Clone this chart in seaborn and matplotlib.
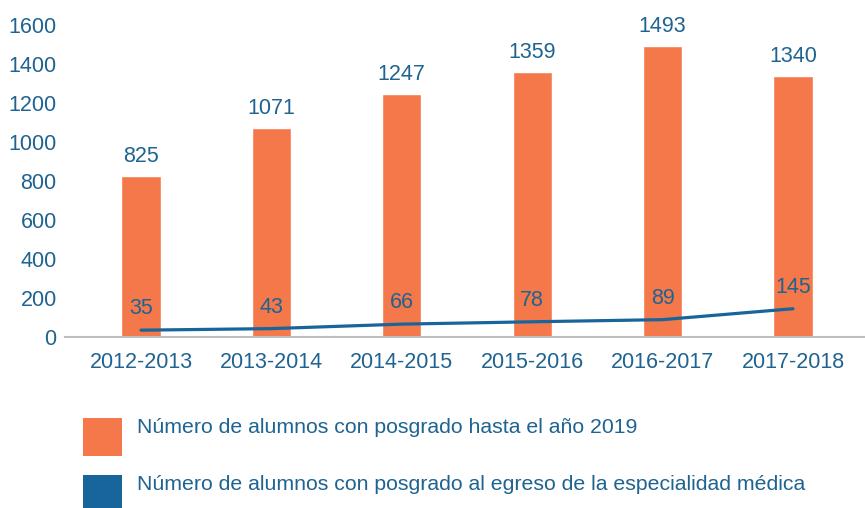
import matplotlib
matplotlib.use("Agg")
import matplotlib.pyplot as plt
import seaborn as sns
import pandas as pd
from matplotlib.patches import Rectangle

years = ["2012-2013", "2013-2014", "2014-2015", "2015-2016", "2016-2017", "2017-2018"]
posgrado_2019 = [825, 1071, 1247, 1359, 1493, 1340]
posgrado_egreso = [35, 43, 66, 78, 89, 145]
yticks = [0, 200, 400, 600, 800, 1000, 1200, 1400, 1600]
label_bar = "Número de alumnos con posgrado hasta el año 2019"
label_line = "Número de alumnos con posgrado al egreso de la especialidad médica"

ORANGE = "#F4784A"
BLUE = "#17659A"
TEXT = "#1F6391"
FS = 15.5
LFS = 15.3

sns.set_theme(style="white")
plt.rcParams['font.family'] = ['Liberation Sans', 'DejaVu Sans']

fig = plt.figure(figsize=(8.65, 5.08), dpi=100)
W, H = 865, 508
x0, x1 = 65, 865
y0, y1 = 337, 25
ax = fig.add_axes([x0 / W, (H - y0) / H, (x1 - x0) / W, (y0 - y1) / H])

df = pd.DataFrame({"year": years, "a": posgrado_2019, "b": posgrado_egreso})
sns.barplot(data=df, x="year", y="a", color=ORANGE, width=0.3, saturation=1, ax=ax, zorder=2)
sns.lineplot(x=list(range(len(years))), y=posgrado_egreso, color=BLUE, linewidth=2.3, ax=ax, zorder=3)

px_per_unit = 130.4
c0 = 141
ax.set_xlim((x0 - c0) / px_per_unit, (x1 - c0) / px_per_unit)
ax.set_ylim(0, 1600)
ax.set_yticks(yticks)

for i, v in enumerate(posgrado_2019):
    ax.annotate(str(v), (i, v), xytext=(0, 6.5), textcoords="offset points",
                ha="center", va="bottom", fontsize=FS, color=TEXT)
for i, v in enumerate(posgrado_egreso):
    ax.annotate(str(v), (i, v), xytext=(0, 8), textcoords="offset points",
                ha="center", va="bottom", fontsize=FS, color=TEXT)

ax.set_xlabel("")
ax.set_ylabel("")
for s in ["top", "right", "left"]:
    ax.spines[s].set_visible(False)
ax.spines["bottom"].set_color("#BFBFBF")
ax.spines["bottom"].set_linewidth(1.5)
ax.tick_params(axis="both", length=0, labelsize=FS, labelcolor=TEXT)
ax.tick_params(axis="x", pad=11)
ax.tick_params(axis="y", pad=6)

# Legend (manual, to match text sitting at top of the swatches)
legend_items = [(ORANGE, label_bar, 418, 433), (BLUE, label_line, 475, 490)]
for color, label, top, baseline in legend_items:
    fig.add_artist(Rectangle((83 / W, 1 - (top + 38) / H), 39 / W, 38 / H,
                             transform=fig.transFigure, facecolor=color, edgecolor="none"))
    fig.text(137 / W, 1 - baseline / H, label, fontsize=LFS, color=TEXT,
             ha="left", va="baseline")

fig.savefig("out.png", dpi=100)
